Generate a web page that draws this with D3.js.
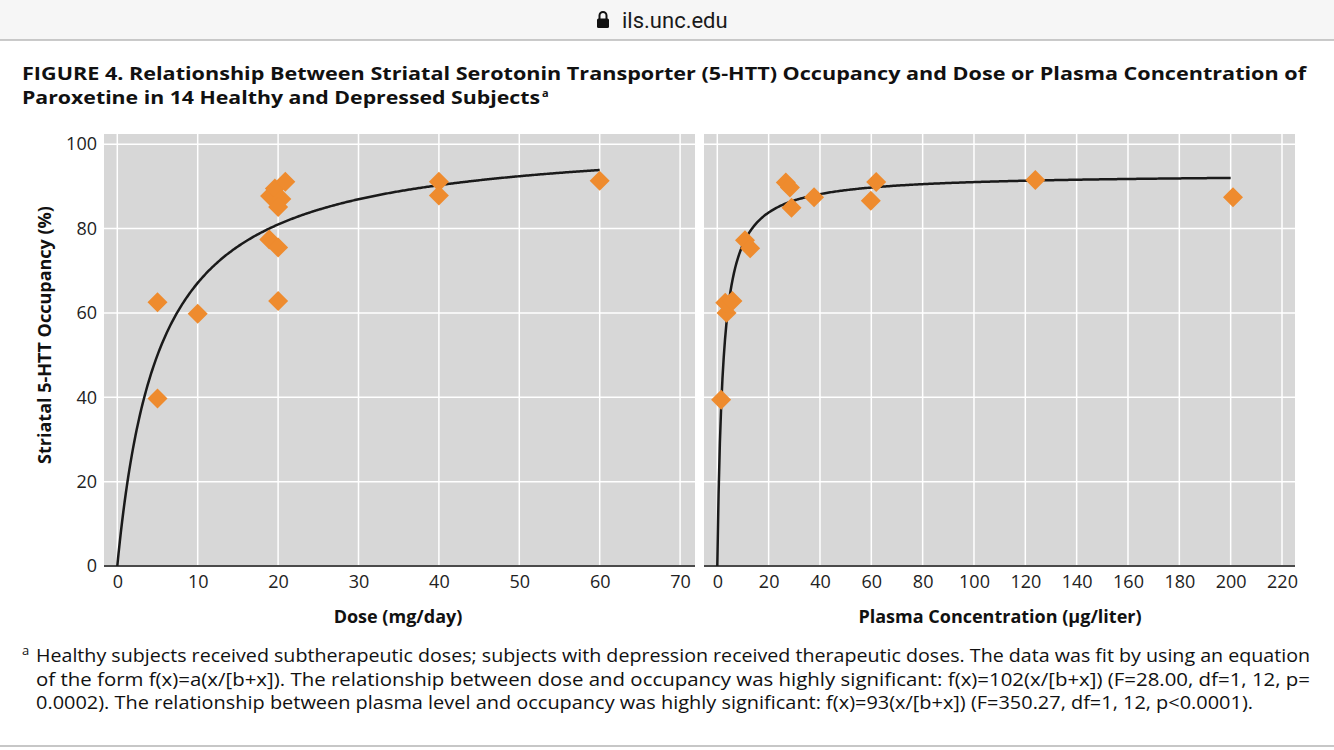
<!DOCTYPE html>
<html>
<head>
<meta charset="utf-8">
<script src="https://cdn.jsdelivr.net/npm/d3@7"></script>
<style>
  body { margin: 0; background: #ffffff; }
  svg { display: block; font-family: "Open Sans", "Noto Sans", sans-serif; }
</style>
</head>
<body>
<div id="chart"></div>
<script>
// Occupancy values (14 subjects)
const doseX = [5, 5, 10, 20, 18.9, 20, 19, 19.6, 20.9, 20.4, 20, 40, 40, 60];
const doseY = [62.5, 39.7, 59.8, 62.8, 77.4, 75.5, 87.7, 89.5, 91.1, 87, 85.1, 91.1, 87.8, 91.3];

const plasmaX = [1.5, 3.6, 3.1, 5.9, 10.8, 12.8, 26.7, 28.3, 28.9, 37.7, 59.8, 61.9, 123.9, 200.9];
const plasmaY = [39.4, 60, 62.4, 62.8, 77.2, 75.3, 90.9, 89.7, 84.9, 87.4, 86.6, 91.0, 91.5, 87.4];

// fitted curves f(x)=a(x/[b+x])
const doseFit = { a: 102, b: 5.2, max: 60 };
const plasmaFit = { a: 93, b: 2.2, max: 200 };

const occTicks = [0, 20, 40, 60, 80, 100];
const doseTicks = [0, 10, 20, 30, 40, 50, 60, 70];
const plasmaTicks = [0, 20, 40, 60, 80, 100, 120, 140, 160, 180, 200, 220];

const titleLines = [
  "FIGURE 4. Relationship Between Striatal Serotonin Transporter (5-HTT) Occupancy and Dose or Plasma Concentration of",
  "Paroxetine in 14 Healthy and Depressed Subjects"
];
const footLines = [
  "Healthy subjects received subtherapeutic doses; subjects with depression received therapeutic doses. The data was fit by using an equation",
  "of the form f(x)=a(x/[b+x]). The relationship between dose and occupancy was highly significant: f(x)=102(x/[b+x]) (F=28.00, df=1, 12, p=",
  "0.0002). The relationship between plasma level and occupancy was highly significant: f(x)=93(x/[b+x]) (F=350.27, df=1, 12, p<0.0001)."
];

const width = 1334, height = 750;
const svg = d3.select("#chart").append("svg")
  .attr("width", width)
  .attr("height", height);

// browser address bar
svg.append("rect").attr("x", 0).attr("y", 0).attr("width", width).attr("height", 40).attr("fill", "#f6f6f6");
svg.append("line").attr("x1", 0).attr("x2", width).attr("y1", 40).attr("y2", 40)
  .attr("stroke", "#b9b9b9").attr("stroke-width", 1.5);
const lock = svg.append("g").attr("fill", "#111");
lock.append("rect").attr("x", 597).attr("y", 18.5).attr("width", 12).attr("height", 9.5).attr("rx", 1.5);
lock.append("path").attr("d", "M599.5,19 V15.5 A3.5,3.5 0 0 1 606.5,15.5 V19")
  .attr("fill", "none").attr("stroke", "#111").attr("stroke-width", 2);
svg.append("text").attr("x", 622).attr("y", 28)
  .attr("font-family", "Roboto, 'Noto Sans', sans-serif")
  .attr("font-size", 22).attr("fill", "#1a1a1a")
  .text("ils.unc.edu");

// title
svg.append("text").attr("x", 22).attr("y", 80)
  .attr("font-weight", "bold").attr("font-size", 18).attr("fill", "#111")
  .attr("textLength", 1284).attr("lengthAdjust", "spacingAndGlyphs")
  .text(titleLines[0]);
svg.append("text").attr("x", 22).attr("y", 104)
  .attr("font-weight", "bold").attr("font-size", 18).attr("fill", "#111")
  .attr("textLength", 518).attr("lengthAdjust", "spacingAndGlyphs")
  .text(titleLines[1]);
svg.append("text").attr("x", 542).attr("y", 97)
  .attr("font-weight", "bold").attr("font-size", 11).attr("fill", "#111")
  .text("a");

// panels
const yScale = d3.scaleLinear().domain([0, 102.4]).range([566, 134]);

const panels = [
  { x0: 104, x1: 695, zero: 117.3, last: 680.1, ticks: doseTicks, xs: doseX, ys: doseY, fit: doseFit,
    label: "Dose (mg/day)", labelX: 398, yAxis: true },
  { x0: 704, x1: 1295, zero: 717.3, last: 1282, ticks: plasmaTicks, xs: plasmaX, ys: plasmaY, fit: plasmaFit,
    label: "Plasma Concentration (\u03bcg/liter)", labelX: 1000, yAxis: false }
];

panels.forEach(p => {
  const tMax = p.ticks[p.ticks.length - 1];
  const xScale = d3.scaleLinear().domain([0, tMax]).range([p.zero, p.last]);
  const g = svg.append("g");

  g.append("rect")
    .attr("x", p.x0).attr("y", 134)
    .attr("width", p.x1 - p.x0).attr("height", 566 - 134)
    .attr("fill", "#d7d7d7");

  // grid
  g.selectAll(".vgrid").data(p.ticks).enter().append("line")
    .attr("class", "vgrid")
    .attr("x1", d => xScale(d)).attr("x2", d => xScale(d))
    .attr("y1", 134).attr("y2", 566)
    .attr("stroke", "#ffffff").attr("stroke-width", 1.5);
  g.selectAll(".hgrid").data(occTicks.filter(d => d > 0)).enter().append("line")
    .attr("class", "hgrid")
    .attr("x1", p.x0).attr("x2", p.x1)
    .attr("y1", d => yScale(d)).attr("y2", d => yScale(d))
    .attr("stroke", "#ffffff").attr("stroke-width", 1.5);

  // x axis
  const xAxis = d3.axisBottom(xScale).tickValues(p.ticks).tickSize(0).tickPadding(9);
  const ax = g.append("g").attr("transform", "translate(0,566)").call(xAxis);
  ax.select(".domain").remove();
  ax.selectAll("text").attr("font-size", 18).attr("fill", "#222")
    .attr("font-family", "'Open Sans', 'Noto Sans', sans-serif");

  g.append("line")
    .attr("x1", p.x0).attr("x2", p.x1).attr("y1", 566).attr("y2", 566)
    .attr("stroke", "#4a4a4a").attr("stroke-width", 2);

  if (p.yAxis) {
    const yAxis = d3.axisLeft(yScale).tickValues(occTicks).tickSize(0).tickPadding(0);
    const ay = g.append("g").attr("transform", "translate(97,0)").call(yAxis);
    ay.select(".domain").remove();
    ay.selectAll("text").attr("font-size", 18).attr("fill", "#222")
      .attr("font-family", "'Open Sans', 'Noto Sans', sans-serif");
  }

  // fitted curve
  const curveX = d3.range(0, p.fit.max + 0.001, p.fit.max / 400);
  const line = d3.line()
    .x(d => xScale(d))
    .y(d => yScale(p.fit.a * d / (p.fit.b + d)));
  g.append("path")
    .datum(curveX)
    .attr("d", line)
    .attr("fill", "none")
    .attr("stroke", "#1a1a1a")
    .attr("stroke-width", 2.5);

  // points
  const diamond = d3.symbol().type(d3.symbolSquare).size(200);
  g.selectAll(".pt").data(d3.range(p.xs.length)).enter().append("path")
    .attr("class", "pt")
    .attr("d", diamond)
    .attr("transform", i => `translate(${xScale(p.xs[i])},${yScale(p.ys[i])}) rotate(45)`)
    .attr("fill", "#ee8b2e");

  // x label
  g.append("text")
    .attr("x", p.labelX).attr("y", 623)
    .attr("text-anchor", "middle")
    .attr("font-weight", "bold").attr("font-size", 18).attr("fill", "#111")
    .text(p.label);
});

// y label
svg.append("text")
  .attr("transform", "translate(51,335) rotate(-90)")
  .attr("text-anchor", "middle")
  .attr("font-weight", "bold").attr("font-size", 18).attr("fill", "#111")
  .text("Striatal 5-HTT Occupancy (%)");

// footnote
svg.append("text").attr("x", 22).attr("y", 655)
  .attr("font-size", 13).attr("fill", "#111").text("a");
const footLen = [1274, 1274, 1217];
footLines.forEach((s, i) => {
  svg.append("text")
    .attr("x", 36).attr("y", 662 + i * 23.5)
    .attr("font-size", 18).attr("fill", "#111")
    .attr("textLength", footLen[i]).attr("lengthAdjust", "spacingAndGlyphs")
    .text(s);
});

svg.append("line").attr("x1", 0).attr("x2", width).attr("y1", 746).attr("y2", 746)
  .attr("stroke", "#b5b5b5").attr("stroke-width", 1.5);
</script>
</body>
</html>
